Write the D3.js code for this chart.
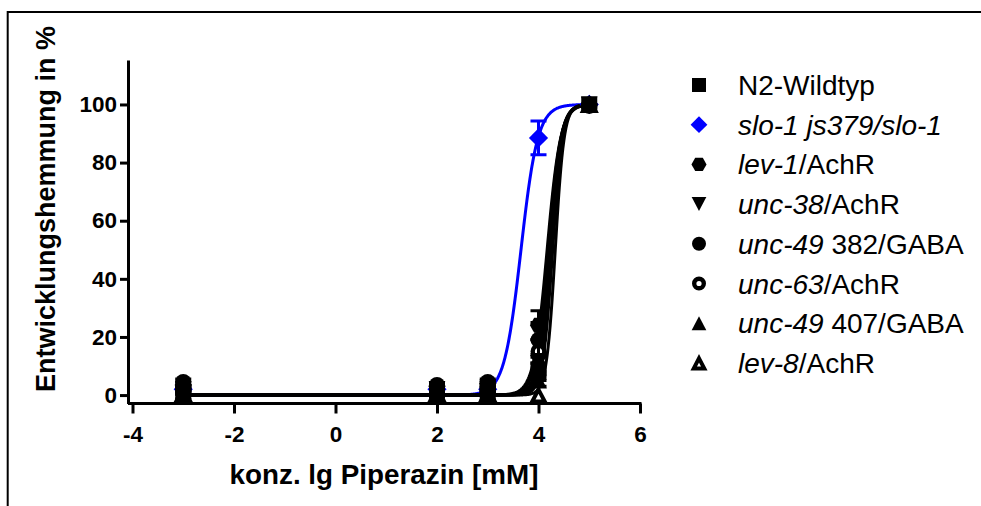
<!DOCTYPE html>
<html>
<head>
<meta charset="utf-8">
<script src="https://cdn.jsdelivr.net/npm/d3@7"></script>
<style>
  body { margin: 0; background: #fff; }
  svg { display: block; font-family: "Liberation Sans", Arial, sans-serif; }
</style>
</head>
<body>
<svg id="chart" width="981" height="506"></svg>
<script>
// log10 piperazine concentration (mM)
const doses = [-3, 2, 3, 4, 5];

// mean inhibition of development (%) per strain
const n2Wildtyp = [1.0, 1.5, 0.5, 8.0, 100];
const slo1      = [2.0, 2.0, 2.0, 88.5, 100];
const lev1      = [3.5, 3.0, 4.0, 24.0, 100];
const unc38     = [2.0, 2.0, 2.0, 11.0, 100];
const unc49_382 = [4.5, 3.5, 4.5, 19.0, 100];
const unc63     = [2.5, 2.5, 3.0, 15.0, 99.5];
const unc49_407 = [1.5, 1.0, 1.0, 5.0, 100];
const lev8      = [0.5, 0.5, 0.5, 0.0, 100];

// standard errors
const n2Err     = [0.5, 0.5, 0.5, 3.0, 0];
const slo1Err   = [0.3, 0.3, 0.5, 5.8, 0];
const lev1Err   = [1.0, 0.8, 1.0, 5.0, 0];
const unc38Err  = [0.5, 0.5, 0.5, 3.0, 0];
const unc49aErr = [1.0, 0.8, 1.0, 6.0, 0];
const unc63Err  = [0.8, 0.5, 0.8, 4.0, 0.5];
const unc49bErr = [0.5, 0.5, 0.5, 2.0, 0];
const lev8Err   = [0.3, 0.3, 0.3, 0.0, 0];

// sigmoidal dose-response fit parameters
const logEC50 = [4.26, 3.655, 4.17, 4.23, 4.19, 4.21, 4.28, 4.33];
const hillSlope = [4.2, 2.63, 3.3, 4.0, 3.5, 3.8, 4.4, 5.0];
const fitBottom = [0, 0, 0, 0, 0, 0, 0, 0];
const fitTop = [100, 100, 100, 100, 100, 100, 100, 100];

const seriesKeys = ["n2", "slo1", "lev1", "unc38", "unc49_382", "unc63", "unc49_407", "lev8"];
const seriesValues = [n2Wildtyp, slo1, lev1, unc38, unc49_382, unc63, unc49_407, lev8];
const seriesErrors = [n2Err, slo1Err, lev1Err, unc38Err, unc49aErr, unc63Err, unc49bErr, lev8Err];
const seriesColors = ["#000", "#0000ff", "#000", "#000", "#000", "#000", "#000", "#000"];
const seriesShapes = ["square", "diamond", "hexagon", "triangleDown", "circle", "circleOpen", "triangle", "triangleOpen"];
// stacking order of the point layers, back to front
const drawOrder = [1, 7, 6, 5, 4, 3, 2, 0];

const legendLabels = [
  [["N2-Wildtyp", false]],
  [["slo-1 js379/slo-1", true]],
  [["lev-1", true], ["/AchR", false]],
  [["unc-38", true], ["/AchR", false]],
  [["unc-49", true], [" 382/GABA", false]],
  [["unc-63", true], ["/AchR", false]],
  [["unc-49", true], [" 407/GABA", false]],
  [["lev-8", true], ["/AchR", false]]
];

const xTicks = [-4, -2, 0, 2, 4, 6];
const yTicks = [0, 20, 40, 60, 80, 100];
const xTitle = "konz. lg Piperazin [mM]";
const yTitle = "Entwicklungshemmung in %";

const svg = d3.select("#chart");

// frame
svg.append("path")
  .attr("d", "M7.7,506 V12 H981")
  .attr("fill", "none").attr("stroke", "#000").attr("stroke-width", 2);

const x = d3.scaleLinear().domain([-4, 6]).range([132.5, 640]);
const y = d3.scaleLinear().domain([-2.9, 115.3]).range([403.5, 60]);
const axisX0 = 128;

// marker shapes
function markerPath(shape, s) {
  const r = s / 2;
  switch (shape) {
    case "square": return `M${-r},${-r}H${r}V${r}H${-r}Z`;
    case "diamond": { const d = r * 1.2; return `M0,${-d}L${d},0L0,${d}L${-d},0Z`; }
    case "hexagon": {
      const R = r * 1.08, h = R * Math.sqrt(3) / 2;
      return `M${-R},0L${-R / 2},${-h}L${R / 2},${-h}L${R},0L${R / 2},${h}L${-R / 2},${h}Z`;
    }
    case "triangle": case "triangleOpen": {
      const w = r * 1.05, t = r * 1.0;
      return `M0,${-t}L${w},${t}L${-w},${t}Z`;
    }
    case "triangleDown": {
      const w = r * 1.05, t = r * 1.0;
      return `M0,${t}L${w},${-t}L${-w},${-t}Z`;
    }
    default: return d3.symbol(d3.symbolCircle, Math.PI * r * r)();
  }
}
function drawMarker(g, shape, color, cx, cy, s) {
  if (shape === "circleOpen") {
    g.append("circle").attr("cx", cx).attr("cy", cy).attr("r", s / 2 - 2.2)
      .attr("fill", "#fff").attr("stroke", color).attr("stroke-width", 4.4);
    return;
  }
  if (shape === "triangleOpen") {
    g.append("path").attr("d", markerPath("triangle", s - 4))
      .attr("transform", `translate(${cx},${cy + 0.5})`)
      .attr("fill", "#fff").attr("stroke", color).attr("stroke-width", 4).attr("stroke-linejoin", "miter");
    return;
  }
  g.append("path").attr("d", markerPath(shape, s))
    .attr("transform", `translate(${cx},${cy})`).attr("fill", color);
}

// axes
const fmt = d => String(d);
const gy = svg.append("g").attr("transform", `translate(${axisX0},0)`)
  .call(d3.axisLeft(y).tickValues(yTicks).tickFormat(fmt).tickSize(8).tickSizeOuter(0).tickPadding(3));
gy.select(".domain").attr("stroke-width", 3);
gy.selectAll(".tick line").attr("stroke-width", 3);
gy.selectAll(".tick text").attr("font-size", 22.5).attr("font-weight", "bold").attr("fill", "#000");

const gx = svg.append("g").attr("transform", `translate(0,${y(-2.9)})`)
  .call(d3.axisBottom(x).tickValues(xTicks).tickFormat(fmt).tickSize(10).tickSizeOuter(0).tickPadding(13));
gx.select(".domain").attr("d", `M${axisX0},0H${x(6) + 1.5}`).attr("stroke-width", 3);
gx.selectAll(".tick line").attr("stroke-width", 3);
gx.selectAll(".tick text").attr("font-size", 22.5).attr("font-weight", "bold").attr("fill", "#000");

// titles
svg.append("text").attr("x", 384).attr("y", 483.5).attr("text-anchor", "middle")
  .attr("font-size", 27.8).attr("font-weight", "bold").text(xTitle);
svg.append("text").attr("transform", "translate(55,209) rotate(-90)").attr("text-anchor", "middle")
  .attr("font-size", 27).attr("font-weight", "bold").text(yTitle);

// fitted curves
const plot = svg.append("g");
const xs = d3.range(0, 801).map(i => -3 + i * 0.01);
const line = d3.line().x(d => x(d[0])).y(d => y(d[1]));
seriesKeys.forEach((k, i) => {
  const pts = xs.map(v => [v, fitBottom[i] + (fitTop[i] - fitBottom[i]) / (1 + Math.pow(10, (logEC50[i] - v) * hillSlope[i]))]);
  plot.append("path").attr("d", line(pts)).attr("fill", "none")
    .attr("stroke", seriesColors[i]).attr("stroke-width", 3);
});

// error bars and data points
drawOrder.forEach(i => {
  const g = plot.append("g").attr("class", seriesKeys[i]);
  seriesValues[i].forEach((v, j) => {
    const e = seriesErrors[i][j];
    const cx = x(doses[j]);
    if (e > 0) {
      g.append("path")
        .attr("d", `M${cx},${y(v - e)}V${y(v + e)}M${cx - 8},${y(v - e)}H${cx + 8}M${cx - 8},${y(v + e)}H${cx + 8}`)
        .attr("stroke", seriesColors[i]).attr("stroke-width", 3).attr("fill", "none");
    }
    drawMarker(g, seriesShapes[i], seriesColors[i], cx, y(v), 16);
  });
});

// legend
const legend = svg.append("g");
legendLabels.forEach((parts, i) => {
  const cy = 85 + i * 39.7;
  drawMarker(legend, seriesShapes[i], seriesColors[i], 699, cy, 14);
  const t = legend.append("text").attr("x", 738).attr("y", cy + 10)
    .attr("font-size", 28).attr("fill", "#000").style("white-space", "pre");
  parts.forEach(([txt, it]) => {
    t.append("tspan").attr("font-style", it ? "italic" : "normal").text(txt);
  });
});
</script>
</body>
</html>
